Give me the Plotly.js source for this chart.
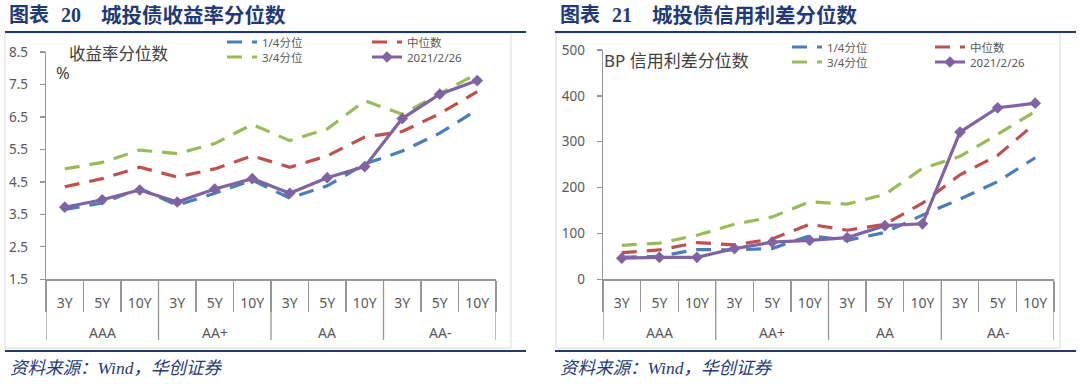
<!DOCTYPE html>
<html><head><meta charset="utf-8">
<script src="https://cdn.plot.ly/plotly-3.0.1.min.js"></script>
<style>html,body{margin:0;padding:0;background:#fff;}#chart{width:1080px;height:384px;}</style>
</head><body><div id="chart"></div>
<script>
// ---- data ----
const ratings = ['AAA', 'AA+', 'AA', 'AA-'];
const tenors = ['3Y', '5Y', '10Y'];
const seriesNames = ['1/4分位', '中位数', '3/4分位', '2021/2/26'];

const yieldQ1  = [3.65, 3.85, 4.30, 3.78, 4.15, 4.55, 4.00, 4.38, 5.05, 5.45, 6.00, 6.72];
const yieldMed = [4.35, 4.60, 4.95, 4.65, 4.90, 5.30, 4.95, 5.30, 5.88, 6.05, 6.60, 7.28];
const yieldQ3  = [4.90, 5.10, 5.48, 5.37, 5.68, 6.27, 5.77, 6.13, 7.00, 6.58, 7.22, 7.83];
const yieldNow = [3.72, 3.95, 4.25, 3.88, 4.28, 4.60, 4.15, 4.63, 4.97, 6.45, 7.20, 7.62];

const spreadQ1  = [48, 50, 65, 64, 67, 95, 85, 102, 140, 175, 213, 265];
const spreadMed = [58, 64, 80, 75, 88, 120, 107, 120, 166, 228, 270, 340];
const spreadQ3  = [74, 79, 96, 120, 136, 169, 164, 185, 242, 268, 316, 366];
const spreadNow = [46, 48, 48, 67, 81, 85, 91, 117, 121, 321, 374, 384];

// ---- helpers ----
const W = 1080, H = 384;
const px = v => v / W;
const py = v => 1 - v / H;
const F = 'Noto Sans, Noto Sans CJK SC, sans-serif';
const FT = 'Liberation Serif, Noto Sans CJK SC, serif';
const AX = '#969696';
const TXT = '#595959';
const NAVY = '#1F3A78';
const COLORS = ['#4A7EBB', '#C0504D', '#9BBB59', '#8064A2'];

// category positions on the axis (one slot per rating x tenor)
const tenorLabels = ratings.flatMap(() => tenors);
const catPos = tenorLabels.map((_, i) => i);
const nT = tenors.length;

function makeTraces(vals, xa, ya, legs) {
  return vals.map((y, i) => {
    const t = {
      type: 'scatter', x: catPos, y: y, name: seriesNames[i],
      xaxis: xa, yaxis: ya, legend: legs[i], hoverinfo: 'skip',
      line: {color: COLORS[i], width: 3.2}
    };
    if (i < 3) { t.mode = 'lines'; t.line.dash = '15px,10px'; }
    else { t.mode = 'lines+markers'; t.marker = {symbol: 'diamond', size: 9, color: COLORS[i]}; }
    return t;
  });
}

const data = [
  ...makeTraces([yieldQ1, yieldMed, yieldQ3, yieldNow], 'x', 'y', ['legend', 'legend2', 'legend3', 'legend4']),
  ...makeTraces([spreadQ1, spreadMed, spreadQ3, spreadNow], 'x2', 'y2', ['legend5', 'legend6', 'legend7', 'legend8'])
];

const xBase = {
  type: 'linear', range: [-0.5, catPos.length - 0.5], showline: true, linecolor: AX, linewidth: 1.3,
  tickmode: 'array', tickvals: catPos, ticktext: tenorLabels, ticks: '',
  minor: {tick0: 0.5, dtick: 1, ticks: 'outside', ticklen: 31, tickwidth: 1.3, tickcolor: AX, showgrid: false},
  tickfont: {size: 14, color: TXT, family: F}, showgrid: false, zeroline: false,
  ticklabelstandoff: 11, fixedrange: true
};
const yBase = {
  showline: true, linecolor: AX, linewidth: 1.3, ticks: 'outside', ticklen: 5,
  tickwidth: 1.3, tickcolor: AX, showgrid: false, zeroline: false,
  tickfont: {size: 13.5, color: TXT, family: F}, ticklabelstandoff: 9, fixedrange: true
};

function leg(x, y) {
  return {x: px(x), y: py(y), xanchor: 'left', yanchor: 'middle', bgcolor: 'rgba(0,0,0,0)',
          borderwidth: 0, font: {size: 11.5, color: TXT, family: F}, itemwidth: 30};
}

function ann(text, x, y, size, color, family, xref) {
  return {text: text, x: x, y: py(y), xref: xref || 'paper', yref: 'paper', showarrow: false,
          xanchor: xref ? 'center' : 'left', yanchor: 'middle', font: {size: size, color: color, family: family}};
}

const shapes = [
  {type: 'rect', xref: 'paper', yref: 'paper', x0: px(5), x1: px(511), y0: py(348), y1: py(33), line: {color: '#D9D9D9', width: 1}},
  {type: 'rect', xref: 'paper', yref: 'paper', x0: px(556), x1: px(1060), y0: py(348), y1: py(33), line: {color: '#D9D9D9', width: 1}},
  {type: 'line', xref: 'paper', yref: 'paper', x0: px(5), x1: px(526), y0: py(32), y1: py(32), line: {color: NAVY, width: 2.2}},
  {type: 'line', xref: 'paper', yref: 'paper', x0: px(5), x1: px(526), y0: py(351), y1: py(351), line: {color: NAVY, width: 2.2}},
  {type: 'line', xref: 'paper', yref: 'paper', x0: px(555), x1: px(1076), y0: py(32), y1: py(32), line: {color: NAVY, width: 2.2}},
  {type: 'line', xref: 'paper', yref: 'paper', x0: px(555), x1: px(1076), y0: py(351), y1: py(351), line: {color: NAVY, width: 2.2}}
];

const annotations = [
  ann('<b>图表</b>', px(7), 15, 20, NAVY, FT),
  ann('<b>20</b>', px(59), 15, 20, NAVY, FT),
  ann('<b>城投债收益率分位数</b>', px(99), 15, 20.5, NAVY, FT),
  ann('<b>图表</b>', px(558), 15, 20, NAVY, FT),
  ann('<b>21</b>', px(610), 15, 20, NAVY, FT),
  ann('<b>城投债信用利差分位数</b>', px(650), 15, 20.5, NAVY, FT),
  ann('<i>资料来源：Wind，华创证券</i>', px(8), 368, 17.5, NAVY, FT),
  ann('<i>资料来源：Wind，华创证券</i>', px(558), 368, 17.5, NAVY, FT),
  ann('收益率分位数', px(67), 53, 16.5, '#404040', F),
  ann('%', px(54), 73, 16.5, '#404040', F),
  ann('BP 信用利差分位数', px(602), 61, 17, '#404040', F)
];

// rating group separators and labels on both category axes
['x', 'x2'].forEach(xr => {
  for (let k = 0; k <= ratings.length; k++) {
    const xv = k * nT - 0.5;
    shapes.push({type: 'line', xref: xr, yref: 'paper', x0: xv, x1: xv, y0: py(279.3), y1: py(340), line: {color: AX, width: 1.3}});
  }
  ratings.forEach((r, k) => annotations.push(ann(r, k * nT + (nT - 1) / 2, 332, 14, TXT, F, xr)));
});

const layout = {
  width: W, height: H, margin: {l: 0, r: 0, t: 0, b: 0},
  paper_bgcolor: '#fff', plot_bgcolor: 'rgba(0,0,0,0)', showlegend: true,
  font: {family: F, color: TXT},
  xaxis: Object.assign({}, xBase, {domain: [px(46), px(496)], anchor: 'y'}),
  yaxis: Object.assign({}, yBase, {domain: [py(279.3), py(52)], range: [1.5, 8.5], tick0: 1.5, dtick: 1, tickformat: '.1f', anchor: 'x'}),
  xaxis2: Object.assign({}, xBase, {domain: [px(603), px(1054)], anchor: 'y2'}),
  yaxis2: Object.assign({}, yBase, {domain: [py(279.3), py(50)], range: [0, 500], dtick: 100, anchor: 'x2'}),
  legend: leg(222, 42), legend2: leg(367, 42), legend3: leg(222, 57), legend4: leg(367, 57),
  legend5: leg(787, 47), legend6: leg(930, 47), legend7: leg(787, 62), legend8: leg(930, 62),
  shapes: shapes, annotations: annotations
};

Plotly.newPlot('chart', data, layout, {displayModeBar: false, staticPlot: true});
</script></body></html>
